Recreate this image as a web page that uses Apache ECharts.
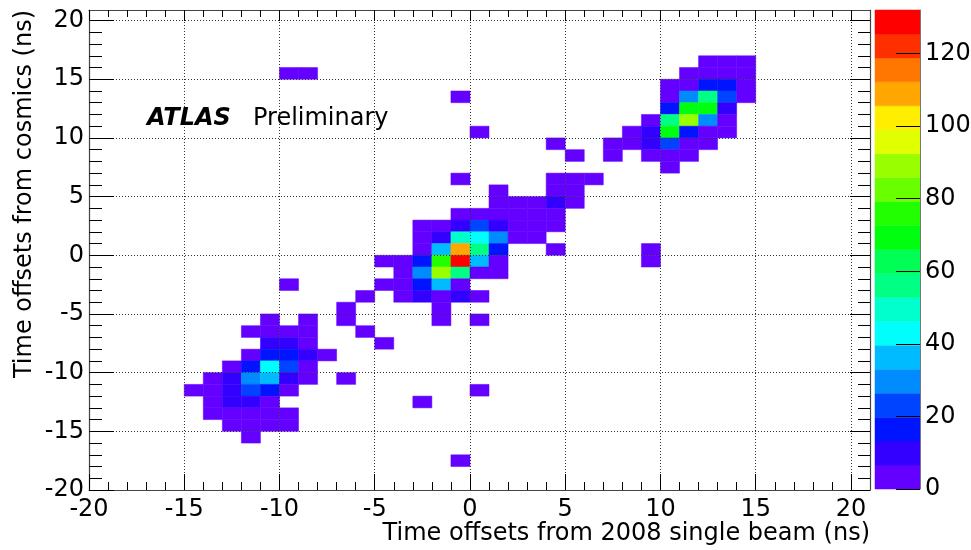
<!DOCTYPE html>
<html>
<head>
<meta charset="utf-8">
<script src="https://cdn.jsdelivr.net/npm/echarts@6/dist/echarts.min.js"></script>
<style>
html,body{margin:0;padding:0;background:#fff;}
#chart{width:971px;height:550px;}
</style>
</head>
<body>
<div id="chart"></div>
<script>
// ---- axis ticks / labels ----
const xMajorTicks = [-20, -15, -10, -5, 0, 5, 10, 15, 20];
const yMajorTicks = [-20, -15, -10, -5, 0, 5, 10, 15, 20];
const zTicks = [0, 20, 40, 60, 80, 100, 120];
const xRange = [-20, 21];
const yRange = [-20, 20.9];
const zMax = 132;

const xTitle = 'Time offsets from 2008 single beam (ns)';
const yTitle = 'Time offsets from cosmics (ns)';

// ROOT "pretty" palette, 20 contour levels
const paletteColors = [
  '#6300ff', '#3300ff', '#0014ff', '#0044ff', '#008bff',
  '#00bbff', '#00fffc', '#00ffcc', '#00ff85', '#00ff55',
  '#00ff0e', '#22ff00', '#69ff00', '#99ff00', '#e0ff00',
  '#ffee00', '#ffa700', '#ff7700', '#ff3000', '#ff0000'
];

// ---- histogram bins: [x lower edge (ns), y lower edge (ns), entries] ----
const binsUpperCluster = [
  [12,16,3],[13,16,4],[14,16,3],
  [11,15,3],[12,15,5],[13,15,5],[14,15,4],
  [10,14,4],[11,14,5],[12,14,16],[13,14,15],[14,14,5],
  [10,13,6],[11,13,30],[12,13,56],[13,13,22],[14,13,4],
  [10,12,16],[11,12,70],[12,12,68],[13,12,11],
  [9,11,5],[10,11,55],[11,11,88],[12,11,29],[13,11,6],
  [8,10,3],[9,10,10],[10,10,70],[11,10,16],[12,10,5],[13,10,4],
  [7,9,2],[8,9,3],[9,9,9],[10,9,22],[11,9,5],[12,9,3],
  [7,8,1],[9,8,3],[10,8,4],[11,8,2],
  [10,7,2]
];
const binsCentralCluster = [
  [4,6,2],[5,6,3],[6,6,2],
  [1,5,3],[4,5,4],[5,5,3],
  [1,4,4],[2,4,5],[3,4,6],[4,4,8],[5,4,3],
  [-1,3,3],[0,3,5],[1,3,6],[2,3,6],[3,3,5],[4,3,4],
  [-3,2,3],[-2,2,6],[-1,2,12],[0,2,24],[1,2,12],[2,2,6],[3,2,5],[4,2,3],
  [-3,1,4],[-2,1,11],[-1,1,50],[0,1,44],[1,1,29],[2,1,6],[3,1,4],
  [-3,0,5],[-2,0,37],[-1,0,108],[0,0,56],[1,0,17],
  [-5,-1,2],[-4,-1,4],[-3,-1,18],[-2,-1,76],[-1,-1,132],[0,-1,36],[1,-1,6],
  [-4,-2,5],[-3,-2,30],[-2,-2,89],[-1,-2,57],[0,-2,6],[1,-2,5],
  [-5,-3,2],[-4,-3,5],[-3,-3,17],[-2,-3,35],[-1,-3,6],
  [-6,-4,1],[-4,-4,3],[-3,-4,10],[-2,-4,6],[-1,-4,9],[0,-4,3],
  [-7,-5,1],[-2,-5,2],
  [-7,-6,1],[-2,-6,1],[0,-6,1]
];
const binsLowerCluster = [
  [-11,-6,2],[-9,-6,2],
  [-12,-7,3],[-11,-7,5],[-10,-7,4],[-9,-7,3],[-6,-7,1],
  [-11,-8,9],[-10,-8,10],[-9,-8,5],[-5,-8,1],
  [-12,-9,4],[-11,-9,15],[-10,-9,16],[-9,-9,8],[-8,-9,3],
  [-13,-10,3],[-12,-10,15],[-11,-10,42],[-10,-10,21],[-9,-10,5],
  [-14,-11,3],[-13,-11,9],[-12,-11,28],[-11,-11,34],[-10,-11,10],[-9,-11,4],[-7,-11,1],
  [-15,-12,2],[-14,-12,4],[-13,-12,8],[-12,-12,22],[-11,-12,16],[-10,-12,6],
  [-14,-13,4],[-13,-13,9],[-12,-13,8],[-11,-13,5],
  [-14,-14,3],[-13,-14,5],[-12,-14,6],[-11,-14,5],[-10,-14,3],
  [-13,-15,2],[-12,-15,4],[-11,-15,3],[-10,-15,2],
  [-12,-16,1]
];
const binsIsolated = [
  [-10,15,1],[-9,15,1],[-1,13,1],[0,10,1],[4,9,1],[5,8,1],[-1,6,1],
  [4,0,1],[9,0,1],[9,-1,1],[-10,-3,1],[-3,-13,1],[0,-12,1],[-1,-18,1]
];

// ---- build ----
const FONT = '"DejaVu Sans", "Liberation Sans", sans-serif';
const allBins = [].concat(binsUpperCluster, binsCentralCluster, binsLowerCluster, binsIsolated);
const nLevels = paletteColors.length;
function levelColor(v) {
  const lvl = Math.max(0, Math.min(nLevels - 1, Math.floor(v / (zMax / nLevels))));
  return paletteColors[lvl];
}
const colorBands = paletteColors.map((c, i) => [i * zMax / nLevels, (i + 1) * zMax / nLevels]);
function intsBetween(a, b) { const r = []; for (let v = a; v <= b; v++) r.push(v); return r; }
const xMinorTicks = intsBetween(xMajorTicks[0], xMajorTicks[xMajorTicks.length - 1]);
const yMinorTicks = intsBetween(yMajorTicks[0], yMajorTicks[yMajorTicks.length - 1]);

const frameLine = { show: true, onZero: false, lineStyle: { color: '#444', width: 1.2 } };
const noLine = { show: false, onZero: false };
const tickStyle = { color: '#000', width: 1 };
const gridLine = { show: true, lineStyle: { color: '#333', width: 1, type: [1, 2] } };

function xAx(pos, len, ticks, withLabels, withLine, withSplit) {
  return {
    gridIndex: 0, type: 'value', position: pos, min: xRange[0], max: xRange[1],
    interval: ticks === xMajorTicks ? 5 : 1, z: 5,
    axisLine: withLine ? frameLine : noLine,
    axisTick: { show: true, inside: true, length: len, customValues: ticks, lineStyle: tickStyle },
    axisLabel: withLabels ? {
      show: true, customValues: xMajorTicks, margin: 8, fontFamily: FONT, fontSize: 24, color: '#000',
      formatter: v => (xMajorTicks.indexOf(v) >= 0 ? String(v) : '')
    } : { show: false },
    splitLine: withSplit ? gridLine : { show: false }
  };
}
function yAx(pos, len, ticks, withLabels, withLine, withSplit) {
  return {
    gridIndex: 0, type: 'value', position: pos, min: yRange[0], max: yRange[1],
    interval: ticks === yMajorTicks ? 5 : 1, z: 5,
    axisLine: withLine ? frameLine : noLine,
    axisTick: { show: true, inside: true, length: len, customValues: ticks, lineStyle: tickStyle },
    axisLabel: withLabels ? {
      show: true, customValues: yMajorTicks, margin: 5, fontFamily: FONT, fontSize: 24, color: '#000',
      padding: [8, 0, 0, 0],
      formatter: v => (yMajorTicks.indexOf(v) >= 0 ? String(v) : '')
    } : { show: false },
    splitLine: withSplit ? gridLine : { show: false }
  };
}

const option = {
  animation: false,
  backgroundColor: '#fff',
  grid: [
    { left: 89, top: 10, width: 781, height: 480, outerBoundsMode: 'none', containLabel: false },
    { left: 875, top: 10, width: 45, height: 479, outerBoundsMode: 'none', containLabel: false }
  ],
  xAxis: [
    xAx('bottom', 16, xMajorTicks, true, true, true),
    xAx('bottom', 8, xMinorTicks, false, false, false),
    xAx('top', 11, xMajorTicks, false, true, false),
    xAx('top', 7, xMinorTicks, false, false, false),
    { gridIndex: 1, type: 'value', min: 0, max: 1, show: false }
  ],
  yAxis: [
    yAx('left', 25, yMajorTicks, true, true, true),
    yAx('left', 13, yMinorTicks, false, false, false),
    yAx('right', 20, yMajorTicks, false, true, false),
    yAx('right', 12, yMinorTicks, false, false, false),
    {
      gridIndex: 1, type: 'value', position: 'right', min: 0, max: zMax, interval: 20, z: 5,
      axisLine: { show: true, onZero: false, lineStyle: { color: '#777', width: 1 } },
      axisTick: { show: true, inside: true, length: 24, customValues: zTicks, lineStyle: tickStyle },
      axisLabel: {
        show: true, customValues: zTicks, margin: 5, fontFamily: FONT, fontSize: 24, color: '#000',
        padding: [4, 0, 0, 0],
        formatter: v => (zTicks.indexOf(v) >= 0 ? String(v) : '')
      },
      splitLine: { show: false }
    }
  ],
  series: [
    {
      type: 'custom', name: 'entries', xAxisIndex: 0, yAxisIndex: 0, z: 1,
      data: allBins, encode: { x: 0, y: 1 }, clip: true,
      renderItem: function (params, api) {
        const x = api.value(0), y = api.value(1), v = api.value(2);
        const a = api.coord([x, y + 1]);
        const b = api.coord([x + 1, y]);
        const c = levelColor(v);
        return { type: 'rect', shape: { x: a[0], y: a[1], width: b[0] - a[0], height: b[1] - a[1] },
                 style: { fill: c, stroke: c, lineWidth: 0.5 } };
      }
    },
    {
      type: 'custom', name: 'palette', xAxisIndex: 4, yAxisIndex: 4, z: 1,
      data: colorBands, encode: { y: [0, 1] },
      renderItem: function (params, api) {
        const lo = api.value(0), hi = api.value(1);
        const a = api.coord([0, hi]);
        const b = api.coord([1, lo]);
        const c = paletteColors[params.dataIndex];
        return { type: 'rect', shape: { x: a[0], y: a[1], width: b[0] - a[0], height: b[1] - a[1] },
                 style: { fill: c, stroke: c, lineWidth: 0.5 } };
      }
    }
  ],
  graphic: [
    { type: 'text', x: 147, y: 119, z: 10,
      style: { text: 'ATLAS', fontFamily: FONT, fontSize: 24, fontWeight: 'bold', fontStyle: 'italic',
               fill: '#000', align: 'left', verticalAlign: 'middle' } },
    { type: 'text', x: 253, y: 119, z: 10,
      style: { text: 'Preliminary', fontFamily: FONT, fontSize: 24, fill: '#000', align: 'left', verticalAlign: 'middle' } },
    { type: 'text', x: 870, y: 534, z: 10,
      style: { text: xTitle, fontFamily: FONT, fontSize: 24, fill: '#000', align: 'right', verticalAlign: 'middle' } },
    { type: 'text', x: 25, y: 10, rotation: Math.PI / 2, z: 10,
      style: { text: yTitle, fontFamily: FONT, fontSize: 24, fill: '#000', align: 'right', verticalAlign: 'middle' } }
  ]
};

const chart = echarts.init(document.getElementById('chart'), null, { renderer: 'canvas' });
chart.setOption(option);
</script>
</body>
</html>
